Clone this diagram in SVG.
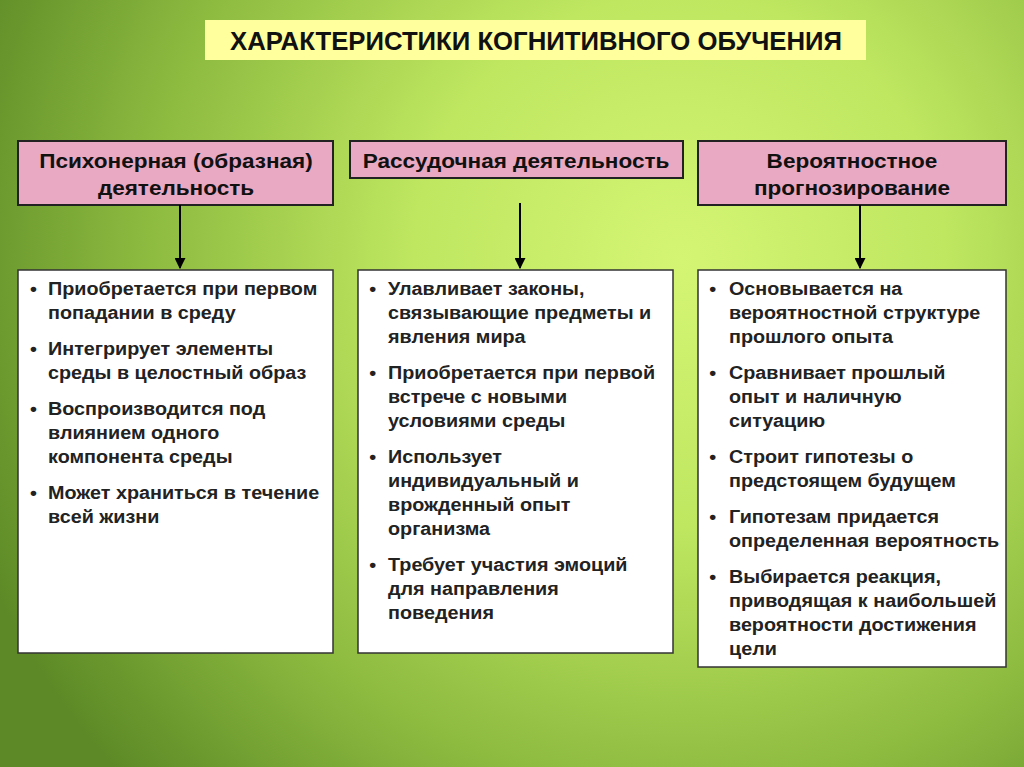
<svg xmlns="http://www.w3.org/2000/svg" width="1024" height="767" viewBox="0 0 1024 767">
<defs>
<radialGradient id="bg" cx="680" cy="260" r="760" gradientUnits="userSpaceOnUse">
<stop offset="0" stop-color="#d4f574"/>
<stop offset="0.35" stop-color="#bfe760"/>
<stop offset="0.7" stop-color="#8dbb40"/>
<stop offset="1" stop-color="#5d8a26"/>
</radialGradient>
<marker id="ah" viewBox="0 0 10 10" refX="9" refY="5" markerWidth="11" markerHeight="11" orient="auto" markerUnits="userSpaceOnUse">
<path d="M0,0 L10,5 L0,10 z" fill="#000"/>
</marker>
</defs>
<style>
.hdr{fill:#e9a9c3;stroke:#222;stroke-width:2}
.box{fill:#fff;stroke:#333;stroke-width:1.5}
.ht{font-family:"Liberation Sans",Arial,sans-serif;font-weight:bold;font-size:20.5px;fill:#111;text-anchor:middle}
.bt{font-family:"Liberation Sans",Arial,sans-serif;font-weight:bold;font-size:17.5px;fill:#222}
.con{stroke:#000;stroke-width:2;fill:none;marker-end:url(#ah)}
</style>
<rect width="1024" height="767" fill="url(#bg)"/>
<g id="title">
<rect x="205" y="20" width="661" height="40" fill="#ffff9e"/>
<text x="536" y="50" font-family="Liberation Sans, Arial, sans-serif" font-weight="bold" font-size="26" fill="#111" text-anchor="middle" textLength="612" lengthAdjust="spacingAndGlyphs">ХАРАКТЕРИСТИКИ КОГНИТИВНОГО ОБУЧЕНИЯ</text>
</g>
<g id="h1">
<rect class="hdr" x="18" y="141" width="315" height="64"/>
<g class="ht" transform="translate(176 0) scale(1.1 1)">
<text x="0" y="168">Психонерная (образная)</text>
<text x="0" y="195">деятельность</text>
</g>
</g>
<g id="h2">
<rect class="hdr" x="350" y="141" width="333" height="37"/>
<g class="ht" transform="translate(516 0) scale(1.1 1)">
<text x="0" y="168">Рассудочная деятельность</text>
</g>
</g>
<g id="h3">
<rect class="hdr" x="698" y="141" width="308" height="64"/>
<g class="ht" transform="translate(852 0) scale(1.1 1)">
<text x="0" y="168">Вероятностное</text>
<text x="0" y="195">прогнозирование</text>
</g>
</g>
<g id="connectors">
<path class="con" d="M180,205 V268"/>
<path class="con" d="M520,203 V268"/>
<path class="con" d="M860,205 V268"/>
</g>
<g id="b1">
<rect class="box" x="18" y="270" width="315" height="383"/>
<g class="bt" transform="translate(48 0) scale(1.13 1)">
<text x="-16" y="295">•</text>
<text x="0" y="295">Приобретается при первом</text>
<text x="0" y="319">попадании в среду</text>
<text x="-16" y="355">•</text>
<text x="0" y="355">Интегрирует элементы</text>
<text x="0" y="379">среды в целостный образ</text>
<text x="-16" y="415">•</text>
<text x="0" y="415">Воспроизводится под</text>
<text x="0" y="439">влиянием одного</text>
<text x="0" y="463">компонента среды</text>
<text x="-16" y="499">•</text>
<text x="0" y="499">Может храниться в течение</text>
<text x="0" y="523">всей жизни</text>
</g>
</g>
<g id="b2">
<rect class="box" x="358" y="270" width="315" height="383"/>
<g class="bt" transform="translate(388 0) scale(1.13 1)">
<text x="-16.5" y="295">•</text>
<text x="0" y="295">Улавливает законы,</text>
<text x="0" y="319">связывающие предметы и</text>
<text x="0" y="343">явления мира</text>
<text x="-16.5" y="379">•</text>
<text x="0" y="379">Приобретается при первой</text>
<text x="0" y="403">встрече с новыми</text>
<text x="0" y="427">условиями среды</text>
<text x="-16.5" y="463">•</text>
<text x="0" y="463">Использует</text>
<text x="0" y="487">индивидуальный и</text>
<text x="0" y="511">врожденный опыт</text>
<text x="0" y="535">организма</text>
<text x="-16.5" y="571">•</text>
<text x="0" y="571">Требует участия эмоций</text>
<text x="0" y="595">для направления</text>
<text x="0" y="619">поведения</text>
</g>
</g>
<g id="b3">
<rect class="box" x="698" y="270" width="308" height="397"/>
<g class="bt" transform="translate(729 0) scale(1.13 1)">
<text x="-17.5" y="295">•</text>
<text x="0" y="295">Основывается на</text>
<text x="0" y="319">вероятностной структуре</text>
<text x="0" y="343">прошлого опыта</text>
<text x="-17.5" y="379">•</text>
<text x="0" y="379">Сравнивает прошлый</text>
<text x="0" y="403">опыт и наличную</text>
<text x="0" y="427">ситуацию</text>
<text x="-17.5" y="463">•</text>
<text x="0" y="463">Строит гипотезы о</text>
<text x="0" y="487">предстоящем будущем</text>
<text x="-17.5" y="523">•</text>
<text x="0" y="523">Гипотезам придается</text>
<text x="0" y="547">определенная вероятность</text>
<text x="-17.5" y="583">•</text>
<text x="0" y="583">Выбирается реакция,</text>
<text x="0" y="607">приводящая к наибольшей</text>
<text x="0" y="631">вероятности достижения</text>
<text x="0" y="655">цели</text>
</g>
</g>
</svg>
